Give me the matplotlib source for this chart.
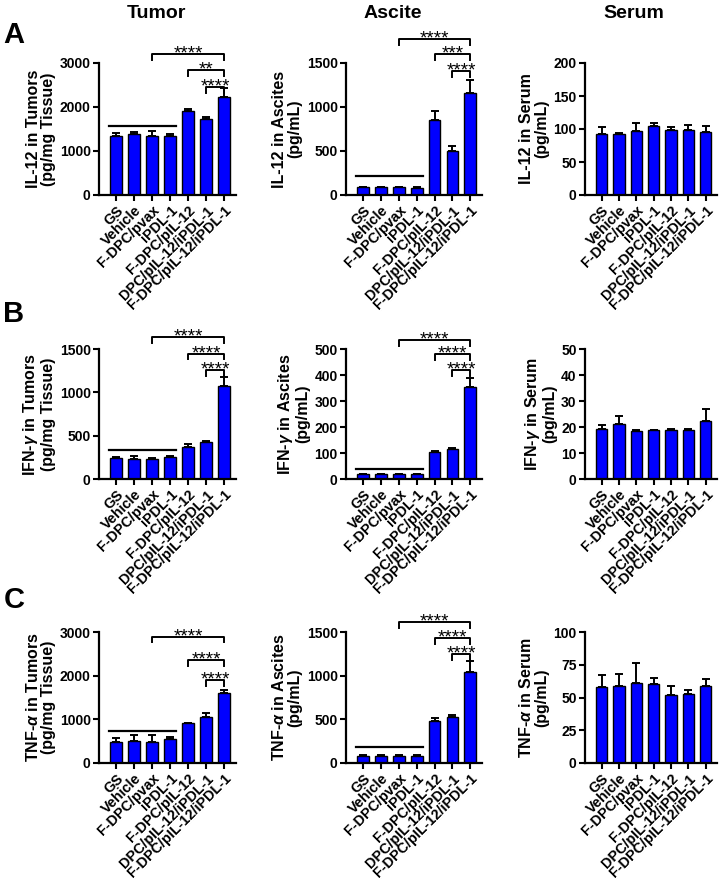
import matplotlib
matplotlib.use("Agg")
import matplotlib.pyplot as plt
import matplotlib.transforms as mtransforms
import numpy as np

plt.rcParams['font.family'] = ['Liberation Sans', 'DejaVu Sans']
plt.rcParams['font.weight'] = 'bold'
plt.rcParams['mathtext.fontset'] = 'custom'
plt.rcParams['mathtext.it'] = 'Liberation Sans:italic'
plt.rcParams['mathtext.rm'] = 'Liberation Sans:bold'

groups = ["GS", "Vehicle", "F-DPC/pvax", "iPDL-1", "F-DPC/pIL-12",
          "DPC/pIL-12/iPDL-1", "F-DPC/pIL-12/iPDL-1"]

col_titles = ["Tumor", "Ascite", "Serum"]
row_letters = ["A", "B", "C"]

# ---- Data (mean, upper SEM) ----
il12_tumor = [1340, 1380, 1340, 1340, 1915, 1725, 2220]
il12_tumor_err = [60, 55, 115, 55, 45, 50, 205]
il12_ascite = [88, 90, 88, 85, 850, 505, 1156]
il12_ascite_err = [8, 6, 8, 6, 107, 50, 153]
il12_serum = [93, 92, 97, 104, 99, 98, 96]
il12_serum_err = [10, 2, 12, 5, 4, 8, 8]

ifng_tumor = [240, 235, 228, 250, 370, 425, 1070]
ifng_tumor_err = [12, 25, 15, 18, 35, 15, 110]
ifng_ascite = [18, 18, 18, 18, 105, 116, 353]
ifng_ascite_err = [3, 3, 3, 3, 3, 4, 36]
ifng_serum = [19.3, 21.1, 18.6, 18.7, 19.0, 18.7, 22.3]
ifng_serum_err = [1.6, 3.0, 0.3, 0.3, 0.4, 0.4, 4.5]

tnfa_tumor = [481, 505, 481, 560, 910, 1055, 1595]
tnfa_tumor_err = [90, 125, 150, 30, 15, 80, 80]
tnfa_ascite = [80, 80, 82, 82, 480, 525, 1040]
tnfa_ascite_err = [6, 6, 6, 6, 38, 30, 132]
tnfa_serum = [58, 59, 61, 60, 52, 52.5, 59]
tnfa_serum_err = [9, 9, 15, 5, 6.5, 3.5, 5]

means = [[il12_tumor, il12_ascite, il12_serum],
         [ifng_tumor, ifng_ascite, ifng_serum],
         [tnfa_tumor, tnfa_ascite, tnfa_serum]]
errs = [[il12_tumor_err, il12_ascite_err, il12_serum_err],
        [ifng_tumor_err, ifng_ascite_err, ifng_serum_err],
        [tnfa_tumor_err, tnfa_ascite_err, tnfa_serum_err]]

ylabels = [["IL-12 in Tumors\n(pg/mg Tissue)", "IL-12 in Ascites\n(pg/mL)", "IL-12 in Serum\n(pg/mL)"],
           ["IFN-$\\mathit{\\gamma}$ in Tumors\n(pg/mg Tissue)", "IFN-$\\mathit{\\gamma}$ in Ascites\n(pg/mL)", "IFN-$\\mathit{\\gamma}$ in Serum\n(pg/mL)"],
           ["TNF-$\\mathit{\\alpha}$ in Tumors\n(pg/mg Tissue)", "TNF-$\\mathit{\\alpha}$ in Ascites\n(pg/mL)", "TNF-$\\mathit{\\alpha}$ in Serum\n(pg/mL)"]]

yticks = [[[0, 1000, 2000, 3000], [0, 500, 1000, 1500], [0, 50, 100, 150, 200]],
          [[0, 500, 1000, 1500], [0, 100, 200, 300, 400, 500], [0, 10, 20, 30, 40, 50]],
          [[0, 1000, 2000, 3000], [0, 500, 1000, 1500], [0, 25, 50, 75, 100]]]

# significance labels (pairs: 2-6, 4-6, 5-6)
sig_labels = [[["****", "**", "****"], ["****", "***", "****"], None],
              [["****", "****", "****"], ["****", "****", "****"], None],
              [["****", "****", "****"], ["****", "****", "****"], None]]
sig_pairs = [(2, 6), (4, 6), (5, 6)]

# layout: bracket heights (fraction of y max) and baseline line (fraction)
bracket_frac = [[[1.07, 0.95, 0.82], [1.185, 1.07, 0.94], None],
                [[1.095, 0.965, 0.835], [1.07, 0.96, 0.835], None],
                [[0.965, 0.785, 0.63], [1.075, 0.955, 0.83], None]]
line_frac = [[0.52, 0.145, None], [0.225, 0.076, None], [0.242, 0.12, None]]

W, H = 721, 885
fig = plt.figure(figsize=(W / 100, H / 100), dpi=100)

col_left = [99, 346, 585]
col_right = [236, 482, 717]
row_top = [63, 349, 632]
row_bot = [195, 479, 763]

blue = '#0000FF'
x = np.arange(len(groups))

for r in range(3):
    for c in range(3):
        l, rr = col_left[c], col_right[c]
        t, b = row_top[r], row_bot[r]
        ax = fig.add_axes([l / W, 1 - b / H, (rr - l) / W, (b - t) / H])
        m = means[r][c]
        e = errs[r][c]
        ax.errorbar(x, m, yerr=[np.zeros(len(m)), e], fmt='none', ecolor='black',
                    elinewidth=1.4, capsize=3, capthick=1.4, zorder=1)
        ax.bar(x, m, width=0.66, color=blue, edgecolor='black', linewidth=1.0, zorder=2)
        ymax = yticks[r][c][-1]
        ax.set_ylim(0, ymax)
        ax.set_xlim(-0.95, 6.65)
        ax.set_yticks(yticks[r][c])
        ax.set_yticklabels([str(v) for v in yticks[r][c]], fontsize=10, fontweight='bold')
        ax.set_xticks(x)
        ax.set_xticklabels(groups, rotation=45, ha='right', rotation_mode='anchor',
                           fontsize=10.4, fontweight='bold')
        for s in ['top', 'right']:
            ax.spines[s].set_visible(False)
        for s in ['left', 'bottom']:
            ax.spines[s].set_linewidth(1.6)
        ax.tick_params(axis='both', direction='out', length=4.5, width=1.5, pad=1.5)
        ax.set_ylabel(ylabels[r][c], fontsize=11.5, fontweight='bold', labelpad=3,
                      linespacing=1.0)

        if sig_labels[r][c] is not None:
            drop = 0.045 * ymax
            star_tr = ax.transData + mtransforms.ScaledTranslation(0, -3.2 / 72, fig.dpi_scale_trans)
            for (x0, x1), lab, fr in zip(sig_pairs, sig_labels[r][c], bracket_frac[r][c]):
                yb = fr * ymax
                ax.plot([x0, x0, x1, x1], [yb - drop, yb, yb, yb - drop], color='black',
                        lw=1.4, clip_on=False, zorder=5)
                ax.text((x0 + x1) / 2, yb, lab, ha='center', va='baseline', fontsize=13.5,
                        fontweight='normal', clip_on=False, zorder=6, transform=star_tr)
            yl = line_frac[r][c] * ymax
            ax.plot([-0.38, 3.33], [yl, yl], color='black', lw=1.6, zorder=5)

# column titles
title_x = [156, 393, 634]
for c in range(3):
    fig.text(title_x[c] / W, 1 - 13 / H, col_titles[c], ha='center', va='center',
             fontsize=14, fontweight='bold')

# row letters
letter_y = [35, 314, 600]
for r in range(3):
    fig.text(14 / W, 1 - letter_y[r] / H, row_letters[r], ha='center', va='center',
             fontsize=21, fontweight='bold')

fig.savefig("out.png", dpi=100, facecolor='white')
